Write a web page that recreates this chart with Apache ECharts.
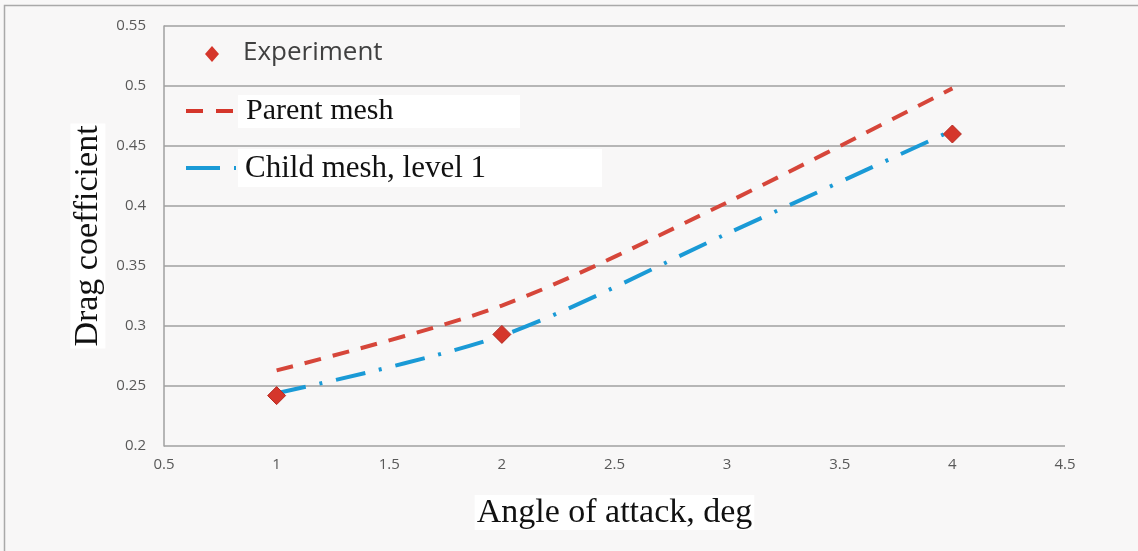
<!DOCTYPE html>
<html>
<head>
<meta charset="utf-8">
<script src="https://cdn.jsdelivr.net/npm/echarts@6/dist/echarts.min.js"></script>
<style>
html,body{margin:0;padding:0;background:#f8f7f7;}
#chart{width:1138px;height:551px;}
</style>
</head>
<body>
<div id="chart"></div>
<script>
// Data
const angles = [1, 2, 3, 4];
const experiment = [0.242, 0.293, 0.460];
const experimentAngles = [1, 2, 4];
const parentMesh = [0.263, 0.317, 0.403, 0.498];
const childMesh = [0.244, 0.292, 0.377, 0.463];
const xTicks = [0.5, 1, 1.5, 2, 2.5, 3, 3.5, 4, 4.5];
const yTicks = [0.2, 0.25, 0.3, 0.35, 0.4, 0.45, 0.5, 0.55];
const seriesNames = ['Experiment', 'Parent mesh', 'Child mesh, level 1'];

const chart = echarts.init(document.getElementById('chart'));
const sans = '"Open Sans", "Noto Sans", sans-serif';
const serif = '"Liberation Serif", "DejaVu Serif", serif';
const RED = '#d5362b', BLUE = '#1a9ad6';

chart.setOption({
  backgroundColor: '#f8f7f7',
  animation: false,
  graphic: [
    {type: 'rect', shape: {x: 4.5, y: 5.5, width: 1140, height: 560},
      style: {fill: 'none', stroke: '#a9a9a9', lineWidth: 1.5}, silent: true, z: 0},
    // legend: Experiment
    {type: 'polygon', shape: {points: [[212, 46], [219, 54], [212, 62], [205, 54]]},
      style: {fill: RED}, z: 10},
    {type: 'text', x: 243, y: 53, style: {text: seriesNames[0], font: '26px ' + sans,
      fill: '#404040', verticalAlign: 'middle'}, z: 10},
    // legend: Parent mesh
    {type: 'rect', shape: {x: 238, y: 95, width: 282, height: 33}, style: {fill: '#ffffff'}, z: 9},
    {type: 'line', shape: {x1: 186, y1: 111, x2: 234, y2: 111},
      style: {stroke: RED, lineWidth: 4, lineDash: [17, 13]}, z: 10},
    {type: 'text', x: 246, y: 111, style: {text: seriesNames[1], font: '30px ' + serif,
      fill: '#111', verticalAlign: 'middle'}, z: 10},
    // legend: Child mesh
    {type: 'rect', shape: {x: 238, y: 149, width: 364, height: 38}, style: {fill: '#ffffff'}, z: 9},
    {type: 'line', shape: {x1: 186, y1: 168, x2: 237, y2: 168},
      style: {stroke: BLUE, lineWidth: 4, lineDash: [34, 14, 2, 20]}, z: 10},
    {type: 'text', x: 245, y: 169, style: {text: seriesNames[2], font: '31px ' + serif,
      fill: '#111', verticalAlign: 'middle'}, z: 10}
  ],
  grid: {left: 164, right: 73, top: 26, bottom: 105},
  xAxis: {
    type: 'value', min: 0.5, max: 4.5, interval: 0.5,
    name: 'Angle of attack, deg', nameLocation: 'middle', nameGap: 49,
    nameTextStyle: {fontFamily: serif, fontSize: 34, color: '#111', backgroundColor: '#ffffff', padding: [1, 2, 0, 2]},
    axisLine: {show: false},
    axisTick: {show: false},
    splitLine: {show: false},
    axisLabel: {fontFamily: sans, fontSize: 15, color: '#595959', margin: 11,
      formatter: v => { const t = xTicks.find(k => Math.abs(k - v) < 1e-9); return t === undefined ? '' : String(t); }}
  },
  yAxis: {
    type: 'value', min: 0.2, max: 0.55, interval: 0.05,
    name: 'Drag coefficient', nameLocation: 'middle', nameGap: 56,
    nameTextStyle: {fontFamily: serif, fontSize: 34, color: '#111', backgroundColor: '#ffffff', padding: [1, 2, 0, 2]},
    axisLine: {show: true, lineStyle: {color: '#a0a0a0', width: 1.5}},
    axisTick: {show: false},
    splitLine: {show: true, lineStyle: {color: '#a0a0a0', width: 1.5}},
    axisLabel: {fontFamily: sans, fontSize: 15, color: '#595959', margin: 18,
      formatter: v => { const t = yTicks.find(k => Math.abs(k - v) < 1e-9); return t === undefined ? '' : String(t); }}
  },
  series: [
    {
      name: seriesNames[0], type: 'scatter',
      data: experimentAngles.map((a, i) => [a, experiment[i]]),
      symbol: 'diamond', symbolSize: 18,
      itemStyle: {color: RED, opacity: 1, borderColor: '#b52a22', borderWidth: 1},
      z: 5
    },
    {
      name: seriesNames[1], type: 'line',
      data: angles.map((a, i) => [a, parentMesh[i]]),
      smooth: 0.3, showSymbol: false, symbol: 'none',
      lineStyle: {color: '#d6463a', width: 4, type: [17, 12]}
    },
    {
      name: seriesNames[2], type: 'line',
      data: angles.map((a, i) => [a, childMesh[i]]),
      smooth: 0.3, showSymbol: false, symbol: 'none',
      lineStyle: {color: BLUE, width: 4, type: [30, 14, 3, 14]}
    }
  ]
});
</script>
</body>
</html>
